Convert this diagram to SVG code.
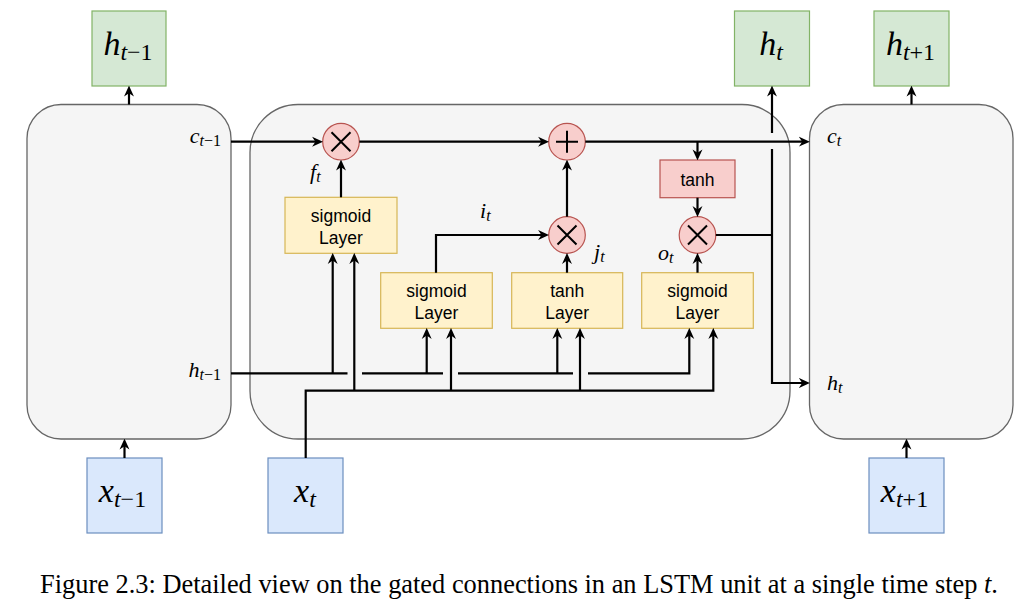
<svg xmlns="http://www.w3.org/2000/svg" width="1034" height="611" viewBox="0 0 1034 611">
<defs>
<marker id="arr" viewBox="0 0 10 10" refX="6" refY="5" markerWidth="11" markerHeight="11" markerUnits="userSpaceOnUse" orient="auto">
<path d="M0,0.5 L10,5 L0,9.5 L3,5 z" fill="#000"/>
</marker>
</defs>
<style>
.cell{fill:#f5f5f5;stroke:#666666;stroke-width:1.3}
.green{fill:#d5e8d4;stroke:#82b366;stroke-width:1.2}
.blue{fill:#dae8fc;stroke:#6c8ebf;stroke-width:1.2}
.yel{fill:#fff2cc;stroke:#d6b656;stroke-width:1.2}
.red{fill:#f8cecc;stroke:#b85450;stroke-width:1.2}
.op{fill:none;stroke:#000;stroke-width:2}
.w{fill:none;stroke:#000;stroke-width:2.2}
.a{marker-end:url(#arr)}
.lbl{font-family:"Liberation Sans",Arial,sans-serif;font-size:17.5px;fill:#000;text-anchor:middle}
.m{font-family:"Liberation Serif","Times New Roman",serif;fill:#000}
.big{font-size:34px}
.sm{font-size:22px}
.it{font-style:italic}
.cap{font-family:"Liberation Serif","Times New Roman",serif;font-size:26.4px;fill:#000}
</style>

<g id="cell-prev"><rect class="cell" x="27" y="104.5" width="204" height="334.5" rx="34" ry="34"/>
<text class="m sm" x="221" y="143" text-anchor="end"><tspan class="it">c</tspan><tspan font-size="16" dy="3"><tspan class="it">t</tspan>−1</tspan></text>
<text class="m sm" x="221" y="376.7" text-anchor="end"><tspan class="it">h</tspan><tspan font-size="16" dy="3"><tspan class="it">t</tspan>−1</tspan></text>
</g>
<g id="cell-cur"><rect class="cell" x="250" y="104.5" width="540" height="334.5" rx="48" ry="48"/></g>
<g id="cell-next"><rect class="cell" x="809.5" y="104.5" width="203.5" height="334.5" rx="34" ry="34"/>
<text class="m sm" x="827" y="143"><tspan class="it">c</tspan><tspan class="it" font-size="16" dy="3">t</tspan></text>
<text class="m sm" x="827" y="389.5"><tspan class="it">h</tspan><tspan class="it" font-size="16" dy="3">t</tspan></text>
</g>

<g id="h-prev"><rect class="green" x="92" y="11" width="74" height="75"/>
<text class="m big" x="128" y="55" text-anchor="middle"><tspan class="it">h</tspan><tspan font-size="24" dy="5"><tspan class="it">t</tspan>−1</tspan></text></g>
<g id="h-cur"><rect class="green" x="734.5" y="11" width="75" height="75"/>
<text class="m big" x="771" y="55" text-anchor="middle"><tspan class="it">h</tspan><tspan class="it" font-size="24" dy="5">t</tspan></text></g>
<g id="h-next"><rect class="green" x="874" y="11" width="75" height="75"/>
<text class="m big" x="910.5" y="55" text-anchor="middle"><tspan class="it">h</tspan><tspan font-size="24" dy="5"><tspan class="it">t</tspan>+1</tspan></text></g>

<g id="x-prev"><rect class="blue" x="87" y="458" width="75" height="75"/>
<text class="m big" x="122.5" y="502.3" text-anchor="middle"><tspan class="it">x</tspan><tspan font-size="24" dy="5"><tspan class="it">t</tspan>−1</tspan></text></g>
<g id="x-cur"><rect class="blue" x="268" y="458" width="75" height="75"/>
<text class="m big" x="305" y="502.3" text-anchor="middle"><tspan class="it">x</tspan><tspan class="it" font-size="24" dy="5">t</tspan></text></g>
<g id="x-next"><rect class="blue" x="869" y="458" width="75" height="75"/>
<text class="m big" x="904.5" y="502.3" text-anchor="middle"><tspan class="it">x</tspan><tspan font-size="24" dy="5"><tspan class="it">t</tspan>+1</tspan></text></g>

<g id="forget-layer"><rect class="yel" x="285" y="197.3" width="112" height="56"/>
<text class="lbl" x="341" y="221.5">sigmoid</text><text class="lbl" x="341" y="243.5">Layer</text></g>
<g id="input-layer"><rect class="yel" x="380.7" y="272.7" width="111.6" height="55.6"/>
<text class="lbl" x="436.5" y="296.7">sigmoid</text><text class="lbl" x="436.5" y="318.5">Layer</text></g>
<g id="cand-layer"><rect class="yel" x="511.7" y="272.7" width="111" height="55.6"/>
<text class="lbl" x="567.2" y="296.7">tanh</text><text class="lbl" x="567.2" y="318.5">Layer</text></g>
<g id="output-layer"><rect class="yel" x="641.7" y="272.7" width="111.6" height="55.6"/>
<text class="lbl" x="697.5" y="296.7">sigmoid</text><text class="lbl" x="697.5" y="318.5">Layer</text></g>
<g id="tanh-c"><rect class="red" x="660" y="160" width="75" height="37.7"/>
<text class="lbl" x="697.5" y="185.5">tanh</text></g>

<g id="mul-f"><circle class="red" cx="341" cy="141.7" r="18.3"/><path class="op" d="M331.5,132.2 L350.5,151.2 M350.5,132.2 L331.5,151.2"/></g>
<g id="add-c"><circle class="red" cx="567" cy="141.7" r="18.3"/><path class="op" d="M567,130.7 V152.7 M556,141.7 H578"/></g>
<g id="mul-i"><circle class="red" cx="567" cy="235" r="18.3"/><path class="op" d="M557.5,225.5 L576.5,244.5 M576.5,225.5 L557.5,244.5"/></g>
<g id="mul-o"><circle class="red" cx="697.5" cy="235" r="18.3"/><path class="op" d="M688,225.5 L707,244.5 M707,225.5 L688,244.5"/></g>

<g id="labels">
<text class="m sm" x="310" y="179"><tspan class="it">f</tspan><tspan class="it" font-size="16" dy="3">t</tspan></text>
<text class="m sm" x="480" y="218"><tspan class="it">i</tspan><tspan class="it" font-size="16" dy="3">t</tspan></text>
<text class="m sm" x="594" y="258.5"><tspan class="it">j</tspan><tspan class="it" font-size="16" dy="3">t</tspan></text>
<text class="m sm" x="658" y="259.5"><tspan class="it">o</tspan><tspan class="it" font-size="16" dy="3">t</tspan></text>
</g>

<g id="connectors">
<path class="w a" d="M129,104.5 V90"/>
<path class="w a" d="M124.5,458 V443"/>
<path class="w a" d="M911.5,104.5 V90"/>
<path class="w a" d="M906.5,458 V443"/>
<path class="w a" d="M231,141.7 H318.7"/>
<path class="w a" d="M359.3,141.7 H544.7"/>
<path class="w a" d="M585.3,141.7 H805.5"/>
<path class="w a" d="M697.5,141.7 V156"/>
<path class="w a" d="M697.5,197.7 V212.7"/>
<path class="w a" d="M341,197.3 V164"/>
<path class="w a" d="M436,272.7 V235 H544.7"/>
<path class="w a" d="M567,272.7 V257.3"/>
<path class="w a" d="M567,216.7 V164"/>
<path class="w a" d="M697.5,272.7 V257.3"/>
<path class="w" d="M715.8,235 H772"/>
<path class="w a" d="M772,133 V90"/>
<path class="w a" d="M772,149 V383 H805.5"/>
<path class="w" d="M231,373.3 H347.5 M362,373.3 H443 M458,373.3 H573"/>
<path class="w a" d="M588,373.3 H689.3 V332.3"/>
<path class="w a" d="M332.7,373.3 V257.3"/>
<path class="w a" d="M426.7,373.3 V332.3"/>
<path class="w a" d="M557.3,373.3 V332.3"/>
<path class="w a" d="M305.7,458 V390.7 H713.3 V332.3"/>
<path class="w a" d="M354.3,390.7 V257.3"/>
<path class="w a" d="M451,390.7 V332.3"/>
<path class="w a" d="M580,390.7 V332.3"/>
</g>

<text class="cap" x="40" y="593">Figure 2.3: Detailed view on the gated connections in an LSTM unit at a single time step <tspan font-style="italic">t</tspan>.</text>
</svg>
